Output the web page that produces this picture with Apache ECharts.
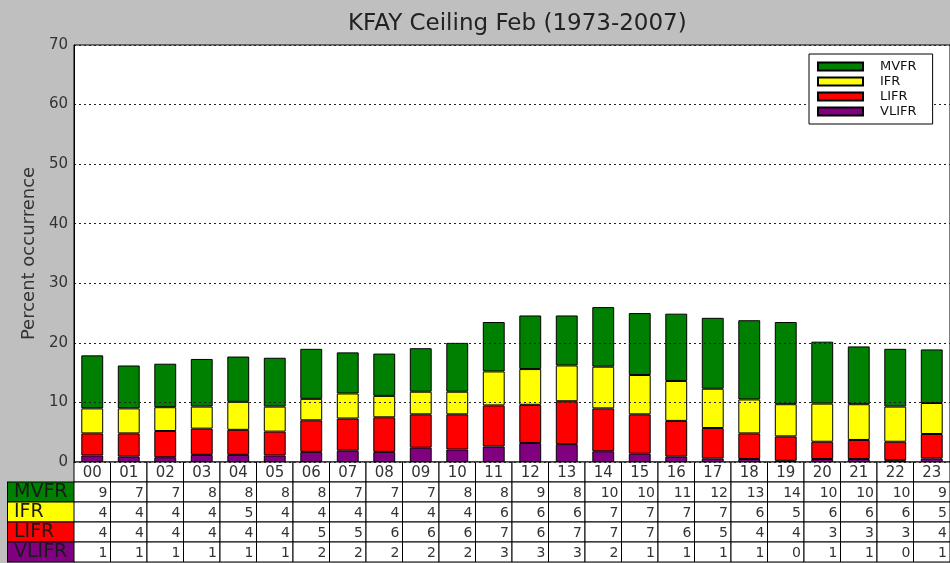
<!DOCTYPE html>
<html>
<head>
<meta charset="utf-8">
<script src="https://cdn.jsdelivr.net/npm/echarts@6/dist/echarts.min.js"></script>
<style>
html, body { margin: 0; padding: 0; background: #bfbfbf; }
#chart { width: 950px; height: 563px; }
</style>
</head>
<body>
<div id="chart"></div>
<script>
// hours of day
const hours = ['00', '01', '02', '03', '04', '05', '06', '07', '08', '09', '10', '11',
  '12', '13', '14', '15', '16', '17', '18', '19', '20', '21', '22', '23']
// percent occurrence
const mvfr = [8.9, 7.2, 7.3, 8.0, 7.6, 8.2, 8.4, 6.9, 7.1, 7.3, 8.2, 8.3,
  9.0, 8.4, 10.0, 10.4, 11.3, 11.9, 13.3, 13.8, 10.4, 9.7, 9.7, 9.0]
const ifr = [4.2, 4.2, 4.0, 3.7, 4.7, 4.2, 3.6, 4.2, 3.6, 3.8, 3.8, 5.7,
  6.0, 6.0, 7.0, 6.6, 6.7, 6.6, 5.7, 5.4, 6.4, 6.0, 5.9, 5.2]
const lifr = [3.7, 3.9, 4.4, 4.4, 4.2, 4.0, 5.3, 5.4, 5.8, 5.6, 5.9, 6.9,
  6.4, 7.2, 7.2, 6.6, 6.0, 5.1, 4.3, 4.1, 2.9, 3.2, 3.1, 4.1]
const vlifr = [1.1, 0.9, 0.8, 1.2, 1.2, 1.1, 1.7, 1.9, 1.7, 2.4, 2.1, 2.6,
  3.2, 3.0, 1.8, 1.4, 0.9, 0.6, 0.5, 0.2, 0.5, 0.5, 0.3, 0.6]
const yTicks = { min: 0, max: 70, step: 10 }
const rowNames = ['', 'MVFR', 'IFR', 'LIFR', 'VLIFR']
const rowColors = { MVFR: '#008000', IFR: '#ffff00', LIFR: '#ff0000', VLIFR: '#800080' }

// table cells: header row with hours, then rounded values per category
const rowValues = [null, mvfr, ifr, lifr, vlifr]
const tableData = []
const tableText = []
for (let r = 0; r < rowNames.length; r++) {
  for (let i = 0; i < hours.length; i++) {
    tableData.push([i, r])
    tableText.push(r === 0 ? hours[i] : String(Math.round(rowValues[r][i])))
  }
}

function renderCell(params, api) {
  const col = api.value(0)
  const row = api.value(1)
  const c = api.coord([col, row])
  const s = api.size([1, 1])
  const x0 = c[0] - s[0] / 2
  const y0 = c[1] - s[1] / 2
  const head = row === 0
  return {
    type: 'group',
    children: [
      {
        type: 'rect',
        shape: { x: x0, y: y0, width: s[0], height: s[1] },
        style: { fill: '#fff', stroke: '#000', lineWidth: 1 }
      },
      {
        type: 'text',
        style: {
          text: tableText[params.dataIndex],
          x: head ? c[0] : x0 + s[0] - 3,
          y: c[1] + 1,
          align: head ? 'center' : 'right',
          verticalAlign: 'middle',
          fill: '#333',
          fontFamily: 'DejaVu Sans',
          fontSize: head ? 15 : 14
        }
      }
    ]
  }
}

const rich = {}
Object.keys(rowColors).forEach(k => {
  rich[k] = {
    backgroundColor: rowColors[k],
    borderColor: '#000',
    borderWidth: 1,
    width: 60,
    height: 19,
    lineHeight: 19,
    padding: [0, 0, 0, 6],
    align: 'left',
    fontSize: 19,
    color: '#1a1a1a',
    fontFamily: 'DejaVu Sans'
  }
})

function barSeries(name, data) {
  return {
    name: name,
    type: 'bar',
    stack: 'total',
    data: data,
    barWidth: '60%',
    xAxisIndex: 0,
    yAxisIndex: 0,
    itemStyle: { color: rowColors[name], borderColor: '#000', borderWidth: 1 }
  }
}

const myChart = echarts.init(document.getElementById('chart'))
myChart.setOption({
  animation: false,
  backgroundColor: '#bfbfbf',
  textStyle: { fontFamily: 'DejaVu Sans' },
  title: {
    text: 'KFAY Ceiling Feb (1973-2007)',
    left: 343,
    top: 8,
    textStyle: { fontSize: 23, fontWeight: 'normal', color: '#222' }
  },
  legend: {
    data: ['MVFR', 'IFR', 'LIFR', 'VLIFR'],
    orient: 'vertical',
    left: 809,
    top: 54,
    z: 5,
    icon: 'rect',
    itemWidth: 45,
    itemHeight: 8,
    itemGap: 2,
    padding: [6, 16, 6, 8],
    backgroundColor: '#fff',
    borderColor: '#000',
    borderWidth: 1,
    textStyle: { fontSize: 13, lineHeight: 13, color: '#111', padding: [0, 0, 0, 12] }
  },
  grid: [
    { left: 74, right: -2, top: 45, height: 417, show: true, backgroundColor: '#fff', borderColor: '#000', borderWidth: 1 },
    { left: 74, right: -2, top: 462, height: 100 }
  ],
  xAxis: [
    {
      type: 'category',
      gridIndex: 0,
      data: hours,
      axisLine: { lineStyle: { color: '#000' } },
      axisTick: { show: false },
      axisLabel: { show: false }
    },
    {
      type: 'category',
      gridIndex: 1,
      data: hours,
      show: false
    }
  ],
  yAxis: [
    {
      type: 'value',
      gridIndex: 0,
      min: yTicks.min,
      max: yTicks.max,
      interval: yTicks.step,
      z: 3,
      name: 'Percent occurrence',
      nameLocation: 'middle',
      nameGap: 33,
      nameTextStyle: { fontSize: 18, color: '#333' },
      axisLine: { show: true, lineStyle: { color: '#000' } },
      axisTick: { show: false },
      axisLabel: { fontSize: 15, color: '#333', margin: 6 },
      splitLine: { lineStyle: { color: '#222', type: [2, 3], width: 1 } }
    },
    {
      type: 'category',
      gridIndex: 1,
      data: rowNames,
      inverse: true,
      axisLine: { show: false },
      axisTick: { show: false },
      splitLine: { show: false },
      axisLabel: {
        interval: 0,
        hideOverlap: false,
        margin: 0,
        formatter: v => (v ? '{' + v + '|' + v + '}' : ''),
        rich: rich
      }
    }
  ],
  series: [
    barSeries('VLIFR', vlifr),
    barSeries('LIFR', lifr),
    barSeries('IFR', ifr),
    barSeries('MVFR', mvfr),
    {
      type: 'custom',
      xAxisIndex: 1,
      yAxisIndex: 1,
      data: tableData,
      renderItem: renderCell,
      clip: false
    }
  ]
})
</script>
</body>
</html>
